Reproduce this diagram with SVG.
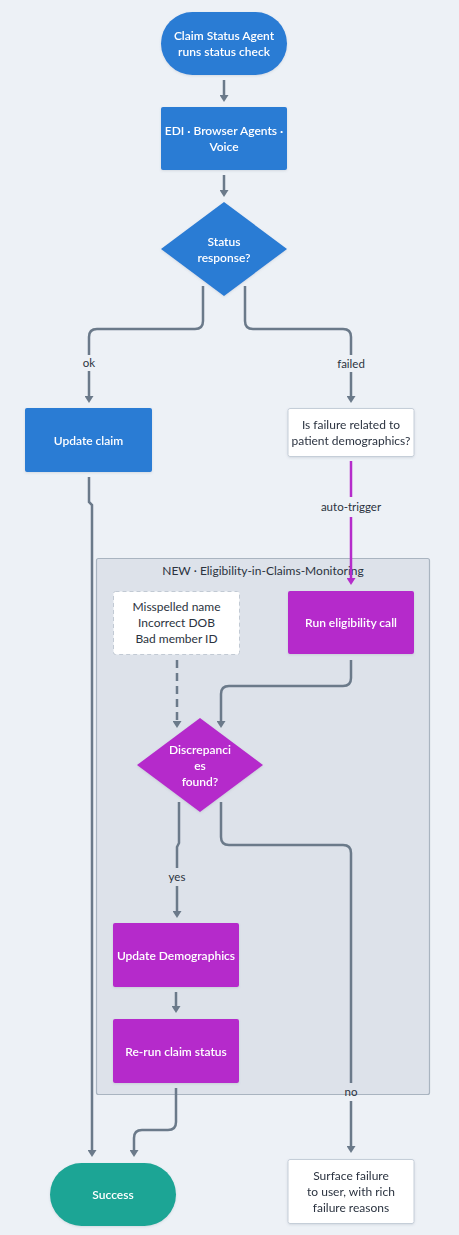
<svg xmlns="http://www.w3.org/2000/svg" width="459" height="1235" viewBox="0 0 459 1235">
<style>
.bg{fill:#edf1f6}
.blue{fill:#2a7bd4}
.mag{fill:#b52ccb}
.teal{fill:#1ba595}
.white{fill:#ffffff;stroke:#c5ced8;stroke-width:1}
.dash{fill:#ffffff;stroke:#c2cad4;stroke-width:1;stroke-dasharray:4 3}
.cont{fill:#dde2ea;stroke:#a9b4c0;stroke-width:1.2}
.t{font-family:Lato,"Noto Sans",sans-serif;font-size:12px;text-anchor:middle}
.tw{fill:#ffffff;font-weight:600}
.td{fill:#2b3340}
.lbl{fill:#2b3340;font-family:Lato,"Noto Sans",sans-serif;font-size:11.5px;text-anchor:middle}
.c{fill:none;stroke:#6b7a8a;stroke-width:2.5}
.cm{fill:none;stroke:#b52ccb;stroke-width:2.5}
.cd{fill:none;stroke:#6b7a8a;stroke-width:2.5;stroke-dasharray:8 5}
</style>
<defs>
<marker id="ah" viewBox="0 0 7 9" refX="1" refY="4.5" markerWidth="7" markerHeight="9" markerUnits="userSpaceOnUse" orient="auto"><path d="M0,0 L7,4.5 L0,9 z" fill="#6b7a8a"/></marker>
<marker id="ahm" viewBox="0 0 7 9" refX="1" refY="4.5" markerWidth="7" markerHeight="9" markerUnits="userSpaceOnUse" orient="auto"><path d="M0,0 L7,4.5 L0,9 z" fill="#b52ccb"/></marker>
<filter id="sh" x="-10%" y="-10%" width="120%" height="130%"><feDropShadow dx="0" dy="1" stdDeviation="1.2" flood-color="#5a6b80" flood-opacity="0.18"/></filter>
</defs>
<rect class="bg" x="0" y="0" width="459" height="1235"/>

<g id="container">
<rect class="cont" x="96.5" y="558.5" width="333" height="536" rx="2"/>
<text class="t td" x="263" y="575">NEW · Eligibility-in-Claims-Monitoring</text>
</g>

<g id="connectors">
<path class="c" d="M224,80 V96" marker-end="url(#ah)"/>
<path class="c" d="M224,175 V191" marker-end="url(#ah)"/>
<path class="c" d="M203,286 V321 Q203,329 195,329 H97 Q89,329 89,337 V355"/>
<path class="c" d="M89,371 V397" marker-end="url(#ah)"/>
<text class="lbl" x="89" y="367">ok</text>
<path class="c" d="M245,286 V321 Q245,329 253,329 H343 Q351,329 351,337 V355"/>
<path class="c" d="M351,372 V397" marker-end="url(#ah)"/>
<text class="lbl" x="351" y="368">failed</text>
<path class="cm" d="M351,461 V497"/>
<path class="cm" d="M351,517 V579" marker-end="url(#ahm)"/>
<text class="lbl" x="351" y="511">auto-trigger</text>
<path class="c" d="M89,477 V502 L92,505 V1151" marker-end="url(#ah)"/>
<path class="cd" d="M177,660 V722" marker-end="url(#ah)"/>
<path class="c" d="M351,660 V678 Q351,686 343,686 H229 Q221,686 221,694 V722" marker-end="url(#ah)"/>
<path class="c" d="M179,802 V843 L177,847 V868"/>
<path class="c" d="M177,886 V912" marker-end="url(#ah)"/>
<text class="lbl" x="177" y="881">yes</text>
<path class="c" d="M221,802 V837 Q221,845 229,845 H343 Q351,845 351,853 V1083"/>
<path class="c" d="M351,1101 V1147" marker-end="url(#ah)"/>
<text class="lbl" x="351" y="1096">no</text>
<path class="c" d="M176,992 V1007" marker-end="url(#ah)"/>
<path class="c" d="M176,1088 V1122 Q176,1130 168,1130 H142 Q134,1130 134,1138 V1151" marker-end="url(#ah)"/>
</g>

<g id="start" filter="url(#sh)">
<rect class="blue" x="161" y="12" width="126" height="63" rx="31.5"/>
<text class="t tw" x="224" y="40">Claim Status Agent</text>
<text class="t tw" x="224" y="56">runs status check</text>
</g>
<g id="channels" filter="url(#sh)">
<rect class="blue" x="161" y="107" width="126" height="63" rx="2"/>
<text class="t tw" x="224" y="135">EDI · Browser Agents ·</text>
<text class="t tw" x="224" y="151">Voice</text>
</g>
<g id="status" filter="url(#sh)">
<polygon class="blue" points="224,202 287,249 224,296 161,249"/>
<text class="t tw" x="224" y="246">Status</text>
<text class="t tw" x="224" y="262">response?</text>
</g>
<g id="update-claim" filter="url(#sh)">
<rect class="blue" x="25" y="408" width="127" height="64" rx="2"/>
<text class="t tw" x="88.5" y="445">Update claim</text>
</g>
<g id="failure-related" filter="url(#sh)">
<rect class="white" x="288" y="408.5" width="126" height="48" rx="2"/>
<text class="t td" x="351" y="429">Is failure related to</text>
<text class="t td" x="351" y="445">patient demographics?</text>
</g>
<g id="examples">
<rect class="dash" x="113.5" y="591.5" width="126" height="63" rx="2"/>
<text class="t td" x="176.5" y="611">Misspelled name</text>
<text class="t td" x="176.5" y="627">Incorrect DOB</text>
<text class="t td" x="176.5" y="643">Bad member ID</text>
</g>
<g id="run-elig" filter="url(#sh)">
<rect class="mag" x="288" y="591" width="126" height="63" rx="2"/>
<text class="t tw" x="351" y="627">Run eligibility call</text>
</g>
<g id="discrepancies" filter="url(#sh)">
<polygon class="mag" points="200,718 263,765 200,812 137,765"/>
<text class="t tw" x="200" y="754">Discrepanci</text>
<text class="t tw" x="200" y="770">es</text>
<text class="t tw" x="200" y="786">found?</text>
</g>
<g id="update-demo" filter="url(#sh)">
<rect class="mag" x="113" y="923" width="126" height="64" rx="2"/>
<text class="t tw" x="176" y="960">Update Demographics</text>
</g>
<g id="rerun" filter="url(#sh)">
<rect class="mag" x="113" y="1019" width="126" height="64" rx="2"/>
<text class="t tw" x="176" y="1056">Re-run claim status</text>
</g>
<g id="success" filter="url(#sh)">
<rect class="teal" x="50" y="1163" width="126" height="63" rx="31.5"/>
<text class="t tw" x="113" y="1199">Success</text>
</g>
<g id="surface" filter="url(#sh)">
<rect class="white" x="288" y="1159.5" width="126" height="64" rx="2"/>
<text class="t td" x="351" y="1180">Surface failure</text>
<text class="t td" x="351" y="1196">to user, with rich</text>
<text class="t td" x="351" y="1212">failure reasons</text>
</g>
</svg>
